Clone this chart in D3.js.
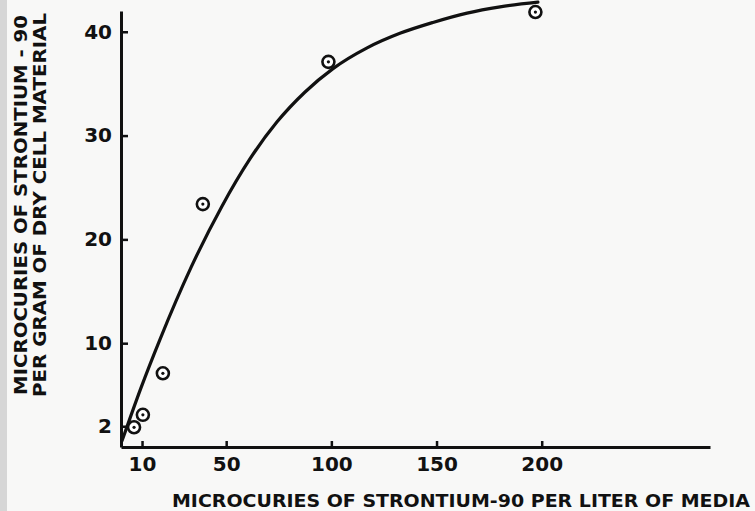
<!DOCTYPE html>
<html lang="en">
<head>
    <meta charset="UTF-8">
    <title>Strontium-90 uptake</title>
    <script src="https://cdn.jsdelivr.net/npm/d3@7"></script>
    <style>
        body { margin: 0; background: #f8f8f7; }
        svg { display: block; }
    </style>
</head>
<body>
<svg></svg>
<script>
    // measured points (uCi per liter of media vs uCi per gram dry cells)
    const pointX = [6.2, 10.4, 19.9, 38.9, 98.6, 197];
    const pointY = [1.9, 3.1, 7.1, 23.4, 37.1, 41.9];

    // hand-drawn fitted curve
    const curveX = [0.5, 9.5, 18.5, 33.3, 48.0, 61.3, 74.1, 87.5, 100.8, 117.0, 132.6, 148.3, 164.5, 180.2, 198.2];
    const curveY = [0.6, 5.7, 10.35, 17.3, 23.2, 27.75, 31.3, 34.2, 36.45, 38.45, 39.85, 40.9, 41.8, 42.4, 42.85];

    const xTicks = [10, 50, 100, 150, 200];
    const yTicks = [2, 10, 20, 30, 40];

    const width = 755, height = 511;

    const x = d3.scaleLinear().domain([0, 280]).range([121, 710]);
    const y = d3.scaleLinear().domain([0, 42]).range([447, 11]);

    const svg = d3.select("svg")
        .attr("width", width)
        .attr("height", height)
        .style("font-family", "'DejaVu Sans', sans-serif")
        .style("font-weight", "bold");

    // faint scan edge on the left
    svg.append("rect")
        .attr("x", 0).attr("y", 0)
        .attr("width", 7).attr("height", height)
        .attr("fill", "#d6d6d6");

    const xAxis = svg.append("g")
        .attr("transform", `translate(0,${y(0)})`)
        .call(d3.axisBottom(x).tickValues(xTicks).tickSizeInner(-6).tickSizeOuter(0).tickPadding(10));

    const yAxis = svg.append("g")
        .attr("transform", `translate(${x(0)},0)`)
        .call(d3.axisLeft(y).tickValues(yTicks).tickSizeInner(-7).tickSizeOuter(0).tickPadding(9));

    [xAxis, yAxis].forEach(g => {
        g.select(".domain").attr("stroke", "#111").attr("stroke-width", 3);
        g.selectAll(".tick line").attr("stroke", "#111").attr("stroke-width", 2.5);
        g.selectAll(".tick text")
            .attr("fill", "#111")
            .style("font-size", "20px")
            .style("font-family", "'DejaVu Sans', sans-serif")
            .style("font-weight", "bold");
    });

    // fitted curve
    const line = d3.line()
        .x(i => x(curveX[i]))
        .y(i => y(curveY[i]))
        .curve(d3.curveMonotoneX);

    svg.append("path")
        .attr("d", line(d3.range(curveX.length)))
        .attr("fill", "none")
        .attr("stroke", "#111")
        .attr("stroke-width", 3.2)
        .attr("stroke-linecap", "round");

    // circled-dot markers
    const pts = svg.append("g")
        .selectAll("g")
        .data(d3.range(pointX.length))
        .join("g")
        .attr("transform", i => `translate(${x(pointX[i])},${y(pointY[i])})`);

    pts.append("circle")
        .attr("r", 6)
        .attr("fill", "#fff")
        .attr("stroke", "#111")
        .attr("stroke-width", 2.6);

    pts.append("circle")
        .attr("r", 1.6)
        .attr("fill", "#111");

    // axis titles
    svg.append("text")
        .attr("x", 172)
        .attr("y", 507)
        .attr("textLength", 578)
        .attr("lengthAdjust", "spacingAndGlyphs")
        .attr("fill", "#111")
        .style("font-size", "18px")
        .text("MICROCURIES OF STRONTIUM-90 PER LITER OF MEDIA");

    const yTitle = svg.append("g")
        .attr("transform", "translate(0,205) rotate(-90)");

    yTitle.append("text")
        .attr("x", -190)
        .attr("y", 27)
        .attr("textLength", 380)
        .attr("lengthAdjust", "spacingAndGlyphs")
        .attr("fill", "#111")
        .style("font-size", "17px")
        .text("MICROCURIES OF STRONTIUM - 90");

    yTitle.append("text")
        .attr("x", -192)
        .attr("y", 46)
        .attr("textLength", 384)
        .attr("lengthAdjust", "spacingAndGlyphs")
        .attr("fill", "#111")
        .style("font-size", "17px")
        .text("PER GRAM OF DRY CELL MATERIAL");
</script>
</body>
</html>
